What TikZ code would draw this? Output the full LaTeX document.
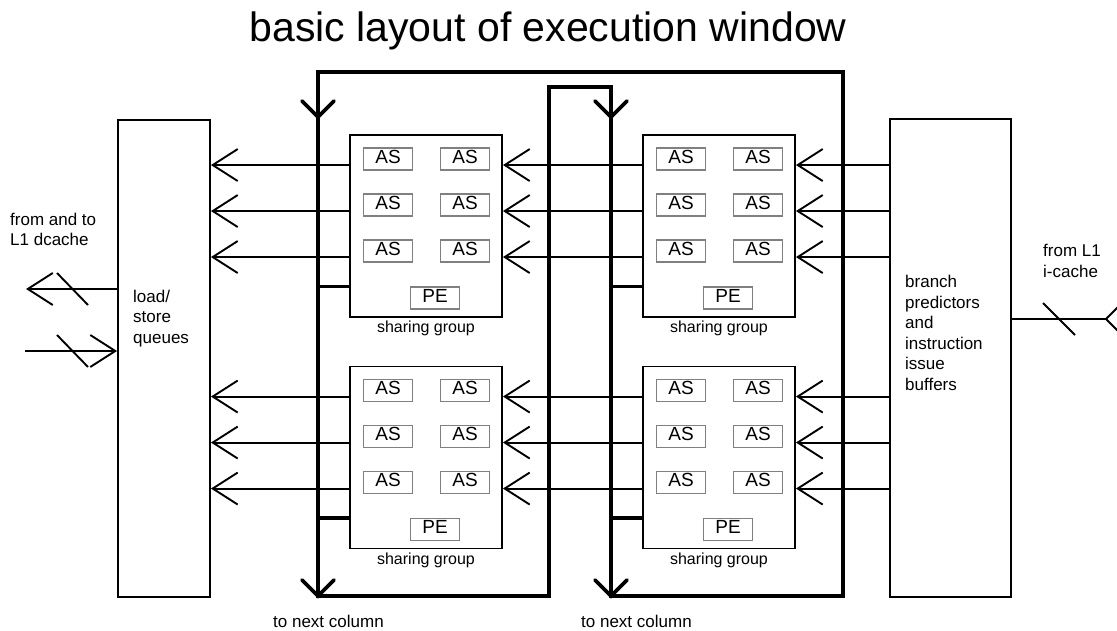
\documentclass[tikz,border=0pt]{standalone}
\usepackage{fontspec}
\setmainfont{Liberation Sans}
\usetikzlibrary{arrows.meta}

\begin{document}
\begin{tikzpicture}[x=1pt,y=-1pt,
  wire/.style={line width=1.9pt},
  bus/.style={line width=3.6pt},
  barb/.style={wire,-{Straight Barb[length=25pt,width=32pt]}},
  outerbox/.style={draw,line width=1.9pt,inner sep=0pt},
  group/.style={draw,line width=1.9pt,inner sep=0pt,minimum width=152pt,minimum height=182pt},
  slot/.style={draw=black!50,line width=1.3pt,inner sep=0pt,minimum width=49pt,minimum height=22pt,
    text depth=5pt,font=\fontsize{19}{22}\selectfont},
  small/.style={font=\fontsize{17}{20.5}\selectfont,inner sep=0pt},
  caption/.style={font=\fontsize{16}{19}\selectfont,inner sep=0pt,anchor=base},
]
\useasboundingbox (0,0) rectangle (1117,631);

% title
\node[anchor=base,inner sep=0pt,font=\fontsize{41}{49}\selectfont] (title) at (548,42) {basic layout of execution window};

% outer units (multi-line labels are placed by the baseline of their last line)
\node[outerbox,minimum width=92pt,minimum height=477pt] (lsq) at (164,358.5) {};
\node[outerbox,minimum width=121pt,minimum height=478pt] (bp) at (950.5,358) {};
\node[small,anchor=base west,align=left] (lsqtext) at (133,343) {load/\\store\\queues};
\node[small,anchor=base west,align=left] (bptext) at (905,390) {branch\\predictors\\and\\instruction\\issue\\buffers};

% the four sharing groups
\foreach \g/\cx/\cy in {tl/426/226, bl/426/457.5, tr/719/226, br/719/457.5}{
  \node[group] (\g) at (\cx,\cy) {};
  \node[caption] (\g cap) at ([yshift=-15pt]\g.south) {sharing group};
  \foreach \r/\dy in {1/25,2/71,3/117}{
    \node[slot] (\g a\r) at ([xshift=-38pt,yshift=-\dy pt]\g.north) {AS};
    \node[slot] (\g b\r) at ([xshift=39pt,yshift=-\dy pt]\g.north) {AS};
  }
  \node[slot] (\g pe) at ([xshift=9pt,yshift=-164pt]\g.north) {PE};
  \foreach \r/\dy in {1/31,2/77,3/123}{
    \coordinate (\g r\r) at ([yshift=-\dy pt]\g.north);
  }
}

% instruction paths: issue buffers -> right groups -> left groups -> load/store queues
\foreach \top/\bot in {tl/tr, bl/br}{
  \foreach \r in {1,2,3}{
    \draw[barb] (bp.west |- \bot r\r) -- (\bot.east |- \bot r\r);
    \draw[barb] (\bot.west |- \bot r\r) -- (\top.east |- \top r\r);
    \draw[barb] (\top.west |- \top r\r) -- (lsq.east |- \top r\r);
  }
}

% result buses
\coordinate (c1t) at (318,72);
\coordinate (c1b) at (318,596);
\coordinate (c2t) at (611,87);
\coordinate (c2b) at (611,596);
\draw[bus,line join=miter] (c2b) -- (843,596) -- (843,72) -- (c1t) -- (c1b) -- (549,596) -- (549,87) -- (c2t) -- cycle;
\foreach \x in {318,611}{
  \foreach \y in {117,596}{
    \draw[bus,line cap=round] (\x-16,\y-16) -- (\x,\y) -- (\x+16,\y-16);
  }
}
\foreach \g/\x in {tl/318, bl/318, tr/611, br/611}{
  \draw[bus] (\x,0 |- \g pe.north) -- (\g.west |- \g pe.north);
}

% column labels
\node[small,anchor=base west] (next1) at (273,627) {to next column};
\node[small,anchor=base west] (next2) at (581,627) {to next column};

% L1 data cache ports
\node[small,anchor=base west,align=left] (dclabel) at (10,246) {from and to\\L1 dcache};
\coordinate (dcout) at (26,289);
\coordinate (dcin) at (25,351);
\draw[barb] (lsq.west |- dcout) -- (dcout);
\draw[barb] (dcin) -- (lsq.west |- dcin);
\draw[wire] (57,273) -- (88,305);
\draw[wire] (57,335) -- (88,367);

% L1 instruction cache port
\node[small,anchor=base west,align=left] (iclabel) at (1043,277) {from L1\\i-cache};
\coordinate (icin) at (1106,319);
\draw[wire] (bp.east |- icin) -- (icin);
\draw[wire] (icin) ++(16,-16) -- (icin) -- ++(16,16);
\draw[wire] (1043,303) -- (1075,335);
\end{tikzpicture}
\end{document}
